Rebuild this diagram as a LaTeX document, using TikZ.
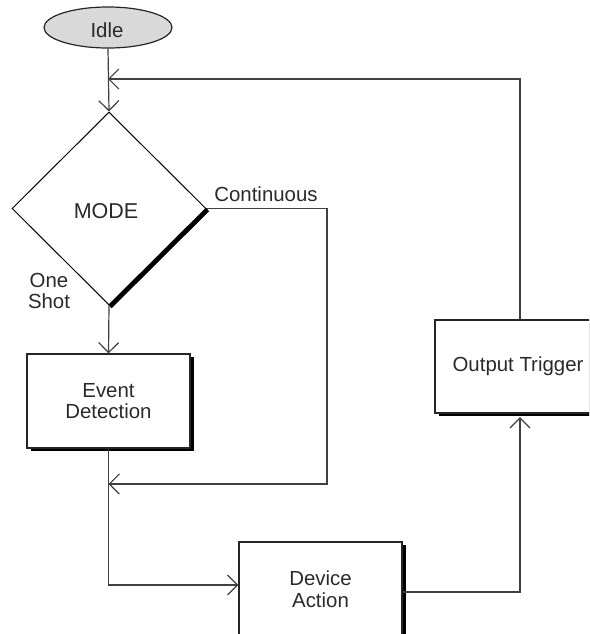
\documentclass[tikz,border=0pt]{standalone}
\usepackage{fontspec}
\setmainfont{Liberation Sans}
\usetikzlibrary{shapes.geometric,arrows.meta,shadows}
\definecolor{ln}{HTML}{404040}
\definecolor{tx}{HTML}{2A2A2A}
\definecolor{idlefill}{HTML}{D9D9D9}
\begin{document}
\begin{tikzpicture}[x=1pt,y=-1pt,
  lbl/.style={font=\fontsize{20.4}{21.5}\selectfont, text=tx, align=center, inner sep=0},
  conn/.style={draw=ln, line width=1.2pt},
  arr/.style={conn, -{Straight Barb[length=10pt,width=20pt,line width=1.2pt]}},
  procbox/.style={draw=black!85, line width=1.2pt, fill=white, minimum width=163pt, minimum height=94pt, lbl,
    general shadow={fill=black, shadow xshift=3.5pt, shadow yshift=-3pt}},
]
\useasboundingbox (0,0) rectangle (589,634);
\clip (0,0) rectangle (589,634);
\fill[white] (0,0) rectangle (589,634);

% nodes
\node[ellipse, draw=black!85, line width=1.2pt, fill=idlefill, minimum width=128pt, minimum height=41pt, inner sep=0] (idle) at (108,27.5) {};
\node[lbl] (idletxt) at (107,30) {Idle};

\node[diamond, draw=black, line width=1pt, minimum width=194pt, minimum height=193pt, inner sep=0] (mode) at (109,208.5) {};
\node[lbl, font=\fontsize{21.5}{22}\selectfont] (modetxt) at (106,211) {MODE};
\draw[line width=4.2pt, line cap=butt] ([shift={(1.2,1.2)}]mode.east) -- ([shift={(1.2,1.2)}]mode.south);

\node[procbox] (ed) at (108.5,401) {Event\\Detection};
\node[procbox] (da) at (320.5,589) {Device\\Action};
\node[procbox, minimum width=170pt, minimum height=93pt] (ot) at (520,366.5) {\hspace*{-4pt}Output Trigger};

% labels
\node[lbl] (cont) at (266,194) {Continuous};
\node[lbl] (oneshot) at (49,291) {One\\Shot};

% junction coordinates
\coordinate (jtop) at (108,79);
\coordinate (cr) at (327,484);
\coordinate (jmid) at (108.5,484);

% connectors
\draw[arr] (idle.south) -- (mode.north);
\draw[arr] (ot.north) |- (jtop);
\draw[arr] (mode.east) -| (cr) -- (jmid);
\draw[arr] (mode.south) -- (ed.north);
\draw[arr] (ed.south) |- ([yshift=4pt]da.west);
\draw[arr] ([yshift=-3pt]da.east) -| ([yshift=-3.5pt]ot.south);
\end{tikzpicture}
\end{document}
